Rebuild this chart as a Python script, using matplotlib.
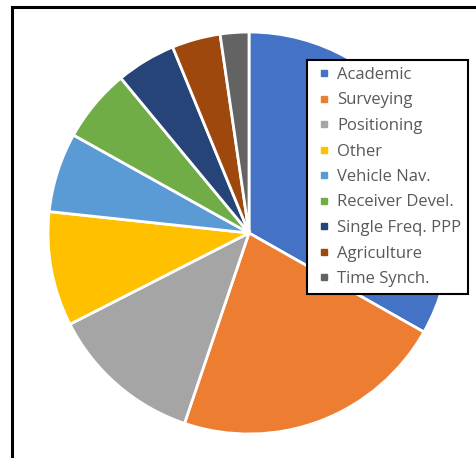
import matplotlib.pyplot as plt
from matplotlib.lines import Line2D

# Dados do grafico
categorias = ['Academic', 'Surveying', 'Positioning', 'Other', 'Vehicle Nav.',
              'Receiver Devel.', 'Single Freq. PPP', 'Agriculture', 'Time Synch.']
valores = [33.2, 22.0, 12.3, 9.2, 6.4, 5.9, 4.8, 3.9, 2.3]
cores = ['#4472C4', '#ED7D31', '#A5A5A5', '#FFC000', '#5B9BD5',
         '#70AD47', '#264478', '#9E480E', '#636363']

W, H = 476, 458
fig = plt.figure(figsize=(W / 100, H / 100), dpi=100)
plt.rcParams['font.family'] = ['Open Sans', 'DejaVu Sans']

# Pizza: centro (249, 233), raio ~201 px
cx, cy, r = 249, 233, 201
ax = fig.add_axes([(cx - r) / W, 1 - (cy + r) / H, 2 * r / W, 2 * r / H])
ax.pie(valores, colors=cores, startangle=90, counterclock=False,
       wedgeprops=dict(edgecolor='white', linewidth=2))
ax.set_aspect('equal')
ax.set_xlim(-1, 1)
ax.set_ylim(-1, 1)

# Moldura (so esquerda e topo)
fig.add_artist(Line2D([12 / W, 12 / W], [0, 1 - 7 / H], color='black', lw=2.2,
                      transform=fig.transFigure))
fig.add_artist(Line2D([12 / W, 1], [1 - 7 / H, 1 - 7 / H], color='black', lw=2.2,
                      transform=fig.transFigure))

# Legenda
handles = [Line2D([], [], marker='s', linestyle='none', markersize=5,
                  markerfacecolor=c, markeredgecolor=c) for c in cores]
leg = fig.legend(handles, categorias, loc='upper left',
                 bbox_to_anchor=(307 / W, 1 - 60 / H), borderaxespad=0,
                 fontsize=12, frameon=True, fancybox=False, framealpha=1,
                 edgecolor='black', handlelength=1.2, handletextpad=0.2,
                 labelspacing=0.57, borderpad=0.42, labelcolor='#595959')
leg.get_frame().set_linewidth(1.5)

fig.savefig('out.png', dpi=100)
